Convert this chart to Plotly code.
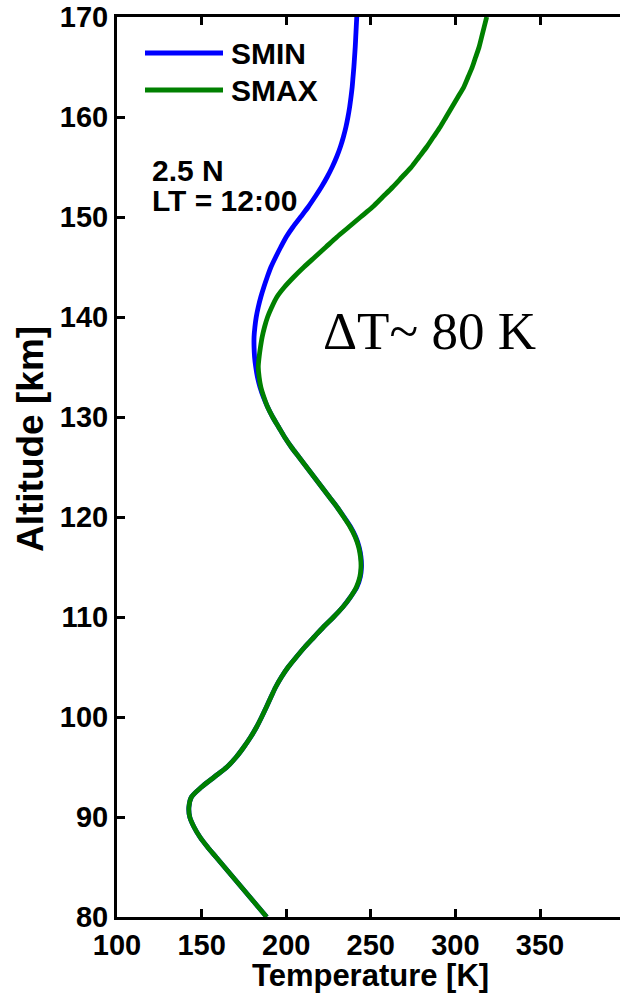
import plotly.graph_objects as go

altitude_km = list(range(80, 171))

smax_temp_k = [
    188.5, 183.5, 178.5, 173.5, 168.5, 163.5, 158.5, 153.5, 149.0, 145.5,   # 80-89
    143.0, 142.5, 144.0, 150.0, 157.5, 165.0, 170.5, 175.0, 179.0, 182.5,   # 90-99
    185.5, 188.3, 191.0, 193.8, 197.2, 201.2, 206.0, 211.0, 216.5, 222.0,   # 100-109
    228.0, 233.5, 238.0, 241.5, 243.5, 244.2, 243.9, 242.8, 240.8, 237.8,   # 110-119
    234.0, 230.0, 225.5, 221.0, 216.5, 212.0, 207.5, 203.0, 199.0, 195.5,   # 120-129
    192.0, 189.0, 186.8, 185.0, 184.0, 183.5, 184.0, 184.8, 185.8, 187.2,   # 130-139
    189.0, 191.5, 194.5, 199.0, 204.5, 210.5, 217.0, 223.5, 230.0, 237.0,   # 140-149
    244.0, 251.0, 257.0, 263.0, 268.5, 274.0, 278.5, 283.0, 287.0, 291.0,   # 150-159
    294.5, 298.0, 301.5, 305.0, 307.5, 310.0, 312.0, 314.0, 315.5, 317.0,   # 160-169
    318.5,                                                                  # 170
]

smin_temp_k = [
    188.5, 183.5, 178.5, 173.5, 168.5, 163.5, 158.5, 153.5, 149.0, 145.5,   # 80-89
    143.0, 142.5, 144.0, 150.0, 157.5, 165.0, 170.5, 175.0, 179.0, 182.5,   # 90-99
    185.5, 188.3, 191.0, 193.8, 197.2, 201.2, 206.0, 211.0, 216.5, 222.0,   # 100-109
    228.0, 233.5, 238.0, 241.8, 243.8, 244.5, 244.2, 243.1, 241.1, 238.1,   # 110-119
    234.2, 230.0, 225.5, 221.0, 216.5, 212.0, 207.5, 203.0, 199.0, 195.5,   # 120-129
    192.0, 189.0, 186.5, 184.5, 183.0, 182.0, 181.3, 181.0, 181.0, 181.5,   # 130-139
    182.3, 183.5, 185.0, 186.8, 188.8, 191.0, 193.8, 196.8, 200.0, 204.0,   # 140-149
    208.5, 213.0, 217.0, 220.8, 224.2, 227.2, 229.8, 232.0, 233.8, 235.3,   # 150-159
    236.5, 237.5, 238.3, 239.0, 239.5, 240.0, 240.4, 240.8, 241.1, 241.4,   # 160-169
    241.7,                                                                  # 170
]

x_ticks = [100, 150, 200, 250, 300, 350]
y_ticks = [80, 90, 100, 110, 120, 130, 140, 150, 160, 170]

series_names = ["SMIN", "SMAX"]
series_colors = ["#0000ff", "#008000"]

# ---- layout geometry (pixels) ----
W, H = 620, 996
L, R, T, B = 117, 620, 17, 917
PX_PER_K = (540 - 117) / 250.0
x_max = 100 + (R - L) / PX_PER_K


def px(xp):
    return (xp - L) / (R - L)


def py(yp):
    return (B - yp) / (B - T)


SANS = "Liberation Sans, Arial, Helvetica, sans-serif"
SERIF = "Liberation Serif, Times New Roman, serif"

fig = go.Figure()
fig.add_trace(go.Scatter(x=smin_temp_k, y=altitude_km, mode="lines", name=series_names[0],
                         line=dict(color=series_colors[0], width=4.8, shape="spline", smoothing=0.8)))
fig.add_trace(go.Scatter(x=smax_temp_k, y=altitude_km, mode="lines", name=series_names[1],
                         line=dict(color=series_colors[1], width=4.8, shape="spline", smoothing=0.8)))

fig.update_layout(
    width=W, height=H,
    margin=dict(l=L, r=W - R, t=T, b=H - B, pad=0),
    paper_bgcolor="white", plot_bgcolor="white",
    showlegend=False,
    font=dict(family=SANS, color="black"),
)
fig.update_xaxes(
    range=[100, x_max], tickvals=x_ticks, ticktext=[str(v) for v in x_ticks],
    showgrid=False, zeroline=False,
    showline=True, linecolor="black", linewidth=3, mirror="ticks",
    ticks="inside", ticklen=8, tickwidth=3, tickcolor="black",
    tickfont=dict(family=SANS, size=29, weight="bold", color="black"),
)
fig.update_layout(
    yaxis=dict(
        range=[80, 170], tickvals=y_ticks, ticktext=[str(v) for v in y_ticks],
        showgrid=False, zeroline=False,
        showline=True, linecolor="black", linewidth=3, mirror=False,
        ticks="inside", ticklen=8, tickwidth=3, tickcolor="black",
        tickfont=dict(family=SANS, size=29, weight="bold", color="black"),
    ),
    yaxis2=dict(
        overlaying="y", side="right", anchor="x", matches="y",
        range=[80, 170], tickvals=y_ticks, showticklabels=False,
        showgrid=False, zeroline=False, showline=False,
        ticks="inside", ticklen=4, tickwidth=3, tickcolor="black",
    ),
)

annotations = [
    dict(text="Temperature [K]", x=px(370), y=py(975), xanchor="center", yanchor="middle",
         font=dict(family=SANS, size=31, weight="bold")),
    dict(text="Altitude [km]", x=px(30), y=py(439), xanchor="center", yanchor="middle", textangle=-90,
         font=dict(family=SANS, size=37, weight="bold")),
    dict(text="2.5 N", x=px(150), y=py(170), xanchor="left", yanchor="middle",
         font=dict(family=SANS, size=30, weight="bold")),
    dict(text="LT = 12:00", x=px(150), y=py(200), xanchor="left", yanchor="middle",
         font=dict(family=SANS, size=30, weight="bold")),
    dict(text="\u0394T~ 80 K", x=px(321), y=py(331), xanchor="left", yanchor="middle",
         font=dict(family=SERIF, size=53)),
    dict(text=series_names[0], x=px(229), y=py(53), xanchor="left", yanchor="middle",
         font=dict(family=SANS, size=30, weight="bold")),
    dict(text=series_names[1], x=px(229), y=py(90), xanchor="left", yanchor="middle",
         font=dict(family=SANS, size=30, weight="bold")),
]
for a in annotations:
    a.update(xref="paper", yref="paper", showarrow=False)
fig.update_layout(annotations=annotations)

shapes = []
for name, color, ypix in zip(series_names, series_colors, [53, 90]):
    shapes.append(dict(type="line", xref="paper", yref="paper",
                       x0=px(145), x1=px(223), y0=py(ypix), y1=py(ypix),
                       line=dict(color=color, width=4.8)))
fig.update_layout(shapes=shapes)

fig.write_html("out.html")
